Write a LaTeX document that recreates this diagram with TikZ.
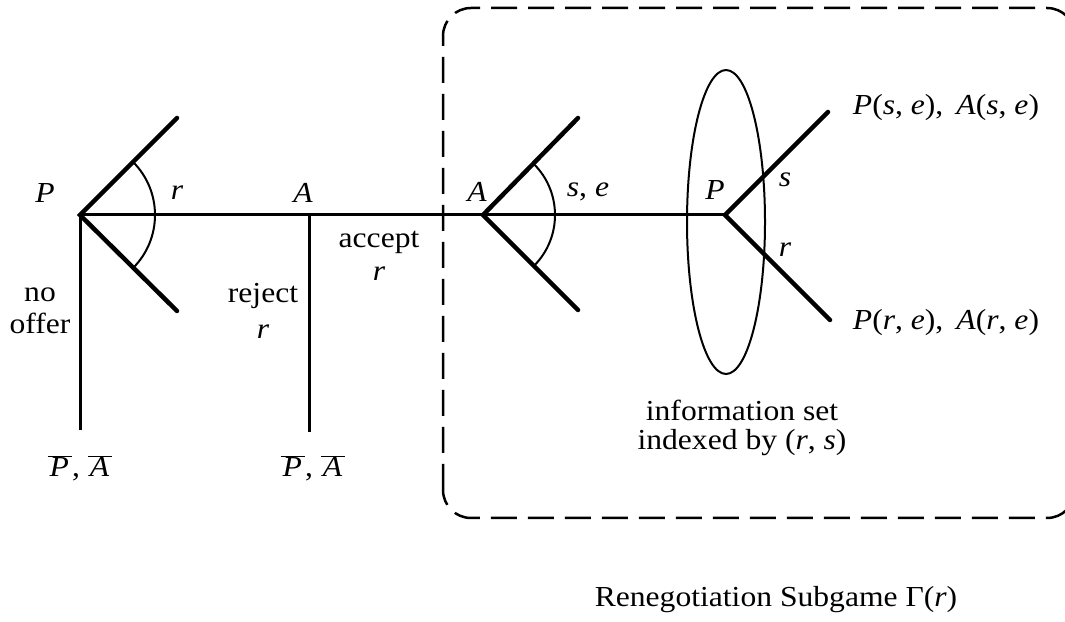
\documentclass[tikz,border=0pt]{standalone}
\usepackage{fontspec}
\setmainfont{Liberation Serif}[FakeStretch=1.09]
\usetikzlibrary{shapes.geometric}
\newcommand{\barit}[1]{$\overline{\hbox{\kern2pt\textit{#1}\kern3pt}}$}
\begin{document}
\begin{tikzpicture}[x=1pt,y=1pt,
  branch/.style={line width=4.5pt},
  edge/.style={line width=3pt},
  anglearc/.style={line width=2pt},
  lbl/.style={inner sep=0pt,font=\fontsize{29}{31}\selectfont,align=center},
  every node/.style={inner sep=0pt}]
\useasboundingbox (0,0) rectangle (1065,621);
% tree nodes
\coordinate (P0) at (80,406);
\coordinate (P0u) at (177,503);
\coordinate (P0d) at (177,310);
\coordinate (P0n) at (80,191);
\coordinate (A1) at (309,406);
\coordinate (A1d) at (309,189);
\coordinate (A2) at (483,406);
\coordinate (A2u) at (578,503);
\coordinate (A2d) at (578,311);
\coordinate (P2) at (725,406);
\coordinate (P2u) at (828,509);
\coordinate (P2d) at (830,301);
% subgame box
\draw[line width=2.5pt,dash pattern=on 26pt off 11pt,rounded corners=28pt] (443,103) rectangle (1075,613);
% edges
\draw[edge] (P0) -- (A1) -- (A2) -- (P2);
\draw[edge] (P0) -- (P0n);
\draw[edge] (A1) -- (A1d);
\draw[branch,line cap=round] (P0u) -- (P0) -- (P0d);
\draw[branch,line cap=round] (A2u) -- (A2) -- (A2d);
\draw[branch,line cap=round] (P2u) -- (P2) -- (P2d);
% angle arcs
\draw[anglearc] ([shift={(45:75)}]P0) arc[start angle=45,end angle=-45,radius=75];
\draw[anglearc] ([shift={(45:72)}]A2) arc[start angle=45,end angle=-45,radius=72];
% information set
\node[draw,ellipse,line width=2pt,minimum width=78pt,minimum height=304pt] (info) at (726,399) {};
% labels
\node[lbl] (lP0) at (45,428) {\textit{P}};
\node[lbl] (lr0) at (177,428) {\textit{r}};
\node[lbl] (lA1) at (303,428) {\textit{A}};
\node[lbl,font=\fontsize{29}{33}\selectfont] (lacc) at (379,365) {accept\\\textit{r}};
\node[lbl,font=\fontsize{29}{32}\selectfont] (lno) at (40,310) {no\\offer};
\node[lbl,font=\fontsize{29}{36}\selectfont] (lrej) at (263,310) {reject\\\textit{r}};
\node[lbl] (lo1) at (80,153) {\barit{P}, \barit{A}};
\node[lbl] (lo2) at (313,153) {\barit{P}, \barit{A}};
\node[lbl] (lA2) at (477,429) {\textit{A}};
\node[lbl] (lse) at (588,429) {\textit{s}, \textit{e}};
\node[lbl] (lP2) at (715,431) {\textit{P}};
\node[lbl] (ls) at (785,441) {\textit{s}};
\node[lbl] (lr) at (785,371) {\textit{r}};
\node[lbl] (pay1) at (946,513) {\textit{P}(\textit{s}, \textit{e}),\hspace{0.45em}\textit{A}(\textit{s}, \textit{e})};
\node[lbl] (pay2) at (946,298) {\textit{P}(\textit{r}, \textit{e}),\hspace{0.45em}\textit{A}(\textit{r}, \textit{e})};
\node[lbl,font=\fontsize{29}{29}\selectfont] (linfo) at (742,193) {information set\\indexed by (\textit{r}, \textit{s})};
\node[lbl] (title) at (776,21) {Renegotiation Subgame \symbol{"0393}(\textit{r})};
\end{tikzpicture}
\end{document}
